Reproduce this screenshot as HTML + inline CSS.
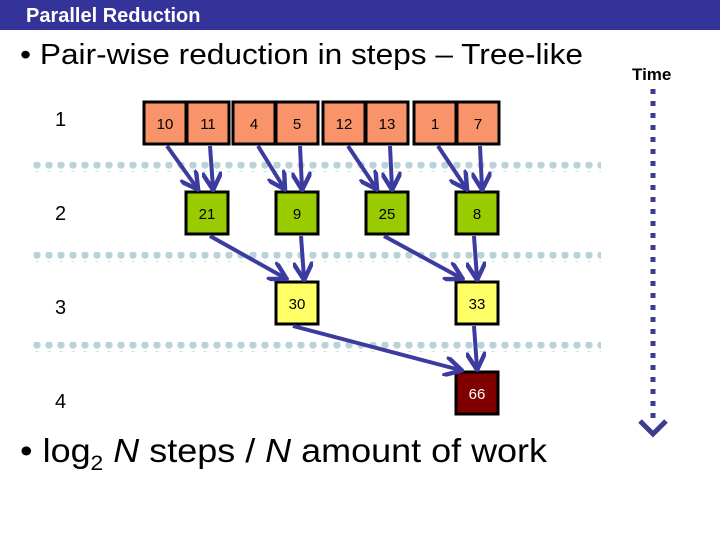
<!DOCTYPE html>
<html><head><style>
body{margin:0;width:720px;height:540px;overflow:hidden;background:#fff;font-family:"Liberation Sans",sans-serif}
</style></head><body>
<svg width="720" height="540" xmlns="http://www.w3.org/2000/svg" font-family="Liberation Sans, sans-serif">
<defs>
<marker id="a" viewBox="0 0 10 10" refX="8" refY="5" markerWidth="5" markerHeight="5" orient="auto"><path d="M0,0 L9,5 L0,10" fill="none" stroke="#3c3ca0" stroke-width="2.2"/></marker>
<pattern id="dp" x="33" y="0" width="12" height="10" patternUnits="userSpaceOnUse"><circle cx="4" cy="5" r="3.7" fill="#b9d3da"/></pattern>
</defs>
<rect x="0" y="0" width="720" height="30" fill="#333399"/>
<text x="26" y="22" fill="#fff" font-size="20" font-weight="bold">Parallel Reduction</text>
<text x="20" y="64" font-size="29" textLength="563" lengthAdjust="spacingAndGlyphs">• Pair-wise reduction in steps – Tree-like</text>
<text x="632" y="80" font-size="17" font-weight="bold">Time</text>
<g font-size="20"><text x="55" y="126">1</text><text x="55" y="220">2</text><text x="55" y="314">3</text><text x="55" y="408">4</text></g>
<rect x="29" y="162" width="572" height="10" fill="url(#dp)"/>
<rect x="29" y="252" width="572" height="10" fill="url(#dp)"/>
<rect x="29" y="342" width="572" height="10" fill="url(#dp)"/>
<g stroke="#000" stroke-width="3" fill="#f9946a">
<rect x="144" y="102" width="42" height="42"/><rect x="187" y="102" width="42" height="42"/>
<rect x="233" y="102" width="42" height="42"/><rect x="276" y="102" width="42" height="42"/>
<rect x="323" y="102" width="42" height="42"/><rect x="366" y="102" width="42" height="42"/>
<rect x="414" y="102" width="42" height="42"/><rect x="457" y="102" width="42" height="42"/>
</g>
<g stroke="#000" stroke-width="3" fill="#99cc00">
<rect x="186" y="192" width="42" height="42"/><rect x="276" y="192" width="42" height="42"/>
<rect x="366" y="192" width="42" height="42"/><rect x="456" y="192" width="42" height="42"/>
</g>
<g stroke="#000" stroke-width="3" fill="#ffff66">
<rect x="276" y="282" width="42" height="42"/><rect x="456" y="282" width="42" height="42"/>
</g>
<rect x="456" y="372" width="42" height="42" stroke="#000" stroke-width="3" fill="#800000"/>
<g font-size="15" text-anchor="middle">
<text x="165" y="129">10</text><text x="208" y="129">11</text><text x="254" y="129">4</text><text x="297" y="129">5</text>
<text x="344" y="129">12</text><text x="387" y="129">13</text><text x="435" y="129">1</text><text x="478" y="129">7</text>
<text x="207" y="219">21</text><text x="297" y="219">9</text><text x="387" y="219">25</text><text x="477" y="219">8</text>
<text x="297" y="309">30</text><text x="477" y="309">33</text>
<text x="477" y="399" fill="#fff">66</text>
</g>
<g stroke="#3c3ca0" stroke-width="4" marker-end="url(#a)">
<line x1="167" y1="146" x2="197" y2="188"/><line x1="210" y1="146" x2="213" y2="188"/>
<line x1="258" y1="146" x2="284" y2="188"/><line x1="300" y1="146" x2="302" y2="188"/>
<line x1="348" y1="146" x2="376" y2="188"/><line x1="390" y1="146" x2="392" y2="188"/>
<line x1="438" y1="146" x2="466" y2="188"/><line x1="480" y1="146" x2="482" y2="188"/>
<line x1="210" y1="236" x2="285" y2="278"/><line x1="301" y1="236" x2="304" y2="278"/>
<line x1="384" y1="236" x2="461" y2="278"/><line x1="474" y1="236" x2="477" y2="278"/>
<line x1="293" y1="326" x2="460" y2="370"/><line x1="474" y1="326" x2="477" y2="368"/>
</g>
<line x1="653" y1="89" x2="653" y2="425" stroke="#3c3c90" stroke-width="5" stroke-dasharray="5 7"/>
<path d="M640,421 L653,434 L666,421" fill="none" stroke="#3c3c90" stroke-width="5"/>
<text x="20" y="462" font-size="33" textLength="527" lengthAdjust="spacingAndGlyphs">• log<tspan font-size="21" dy="8">2</tspan><tspan dy="-8"> </tspan><tspan font-style="italic">N</tspan> steps / <tspan font-style="italic">N</tspan> amount of work</text>
</svg>
</body></html>
